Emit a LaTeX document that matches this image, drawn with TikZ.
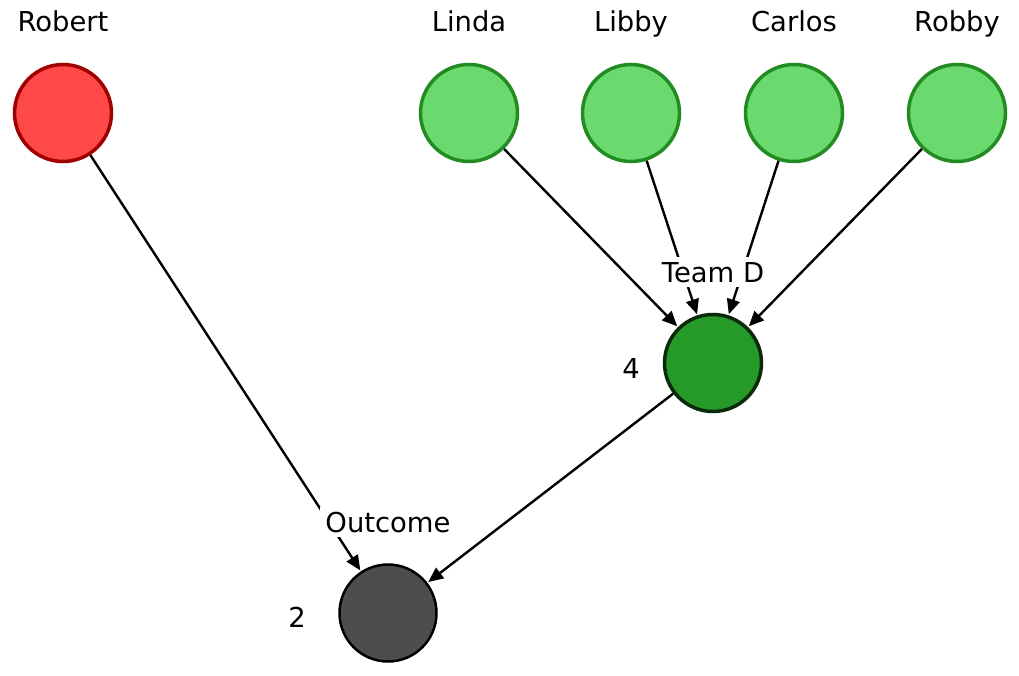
\documentclass[tikz,border=0pt]{standalone}
\usepackage{fontspec}
\setmainfont{DejaVu Sans}
\usetikzlibrary{arrows.meta}
\definecolor{redfill}{HTML}{FF4848}
\definecolor{redline}{HTML}{A00000}
\definecolor{lgfill}{HTML}{6BDA6E}
\definecolor{lgline}{HTML}{228B22}
\definecolor{dgfill}{HTML}{269A29}
\definecolor{dgline}{HTML}{0B2A0B}
\definecolor{grfill}{HTML}{4D4D4D}
\tikzset{
  x=1pt, y=-1pt,
  circ/.style={circle, minimum size=97pt, inner sep=0pt, line width=3.5pt},
  rednode/.style={circ, fill=redfill, draw=redline},
  lgnode/.style={circ, fill=lgfill, draw=lgline},
  dgnode/.style={circ, fill=dgfill, draw=dgline},
  grnode/.style={circ, fill=grfill, draw=black, line width=2.5pt},
  txt/.style={font=\fontsize{27.4}{32}\selectfont, inner sep=0pt, anchor=base},
  lbl/.style={txt, fill=white, inner sep=5pt},
  edge/.style={line width=2.4pt, -{Triangle[length=15pt,width=13pt]}, shorten >=1pt}
}
\begin{document}
\begin{tikzpicture}
\useasboundingbox (0,0) rectangle (1019,676);
\node[rednode] (robert) at (63,113) {};
\node[lgnode] (linda) at (469,113) {};
\node[lgnode] (libby) at (631,113) {};
\node[lgnode] (carlos) at (794,113) {};
\node[lgnode] (robby) at (957,113) {};
\node[dgnode] (teamd) at (713,363) {};
\node[grnode] (outcome) at (388,613) {};

\node[txt] (nrobert) at (63,32) {Robert};
\node[txt] (nlinda) at (469,32) {Linda};
\node[txt] (nlibby) at (631,32) {Libby};
\node[txt] (ncarlos) at (794,32) {Carlos};
\node[txt] (nrobby) at (957,32) {Robby};
\node[txt] (nfour) at (631,378) {4};
\node[txt] (ntwo) at (297,627) {2};

\draw[edge] (linda) -- (teamd);
\draw[edge] (libby) -- (teamd);
\draw[edge] (carlos) -- (teamd);
\draw[edge] (robby) -- (teamd);
\draw[edge] (robert) -- (outcome);
\draw[edge] (teamd) -- (outcome);

\node[lbl] (lteamd) at (713,282) {Team D};
\node[lbl] (loutcome) at (388,532) {Outcome};
\end{tikzpicture}
\end{document}
